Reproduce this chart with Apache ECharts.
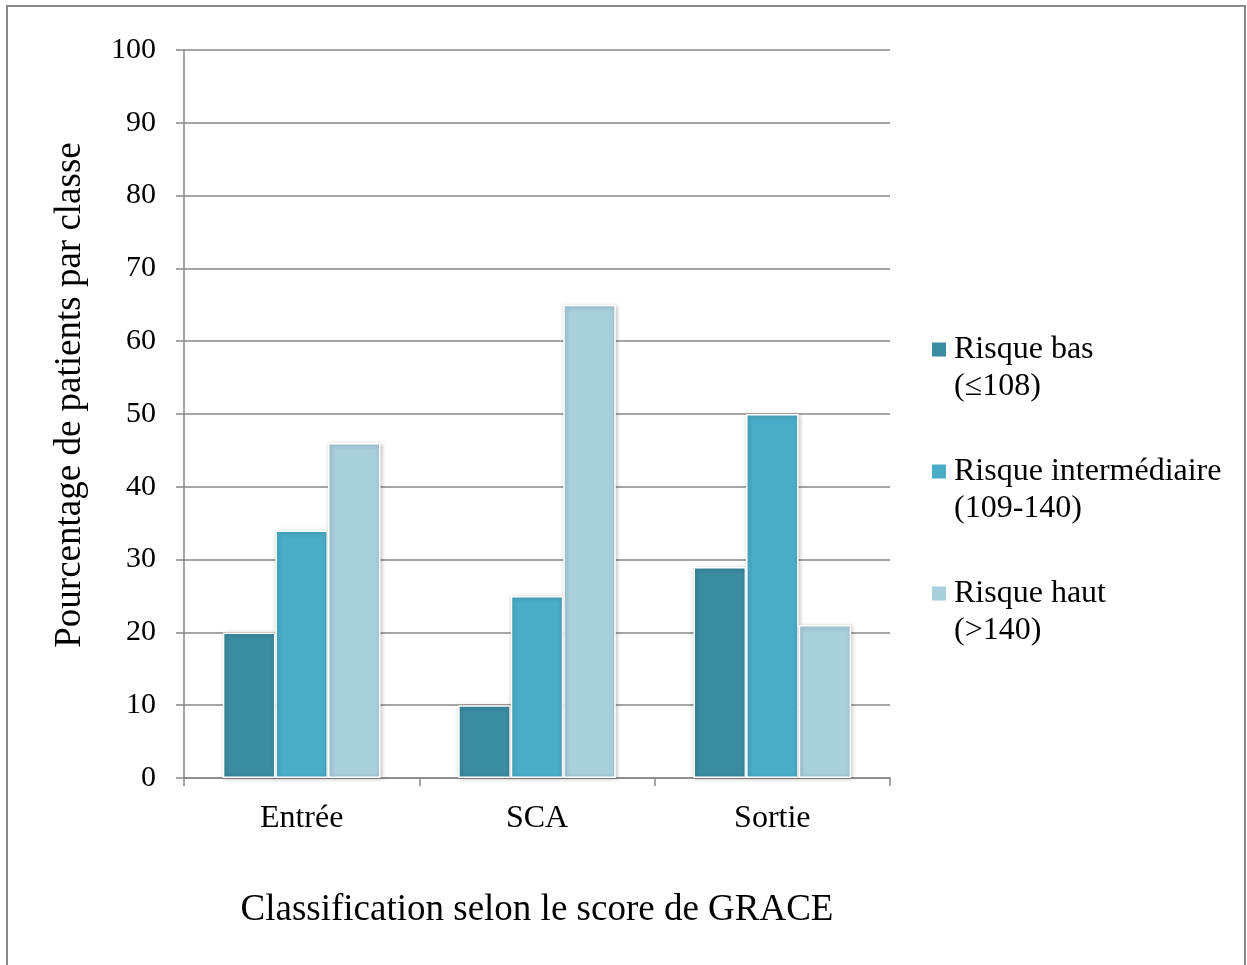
<!DOCTYPE html>
<html>
<head>
<meta charset="utf-8">
<script src="https://cdn.jsdelivr.net/npm/echarts@6/dist/echarts.min.js"></script>
<style>
  html, body { margin: 0; padding: 0; background: #fff; }
  #chart { width: 1247px; height: 965px; }
</style>
</head>
<body>
<div id="chart"></div>
<script>
// categories and series (percent of patients per class)
const categories = ['Entrée', 'SCA', 'Sortie']
const risqueBas = [20, 10, 29]
const risqueInter = [34, 25, 50]
const risqueHaut = [46, 65, 21]
const seriesNames = ['Risque bas\n(≤108)', 'Risque intermédiaire\n(109-140)', 'Risque haut\n(>140)']
const colors = ['#3B8BA1', '#4AACC6', '#A9CEDC']

let chart = echarts.init(document.getElementById('chart'))

const font = 'Liberation Serif'
const gridColor = '#878787'

function bar (name, data, color) {
  return {
    name: name,
    type: 'bar',
    data: data,
    barGap: 0,
    barCategoryGap: '33%',
    itemStyle: {
      color: color,
      borderColor: '#fff',
      borderWidth: 1.5,
      shadowBlur: 4,
      shadowColor: 'rgba(0, 0, 0, 0.25)',
      shadowOffsetX: 1,
      shadowOffsetY: 1
    }
  }
}

let option = {
  animation: false,
  backgroundColor: '#fff',
  color: colors,
  textStyle: { fontFamily: font, color: '#000' },
  graphic: [
    {
      type: 'rect',
      shape: { x: 7, y: 6, width: 1238, height: 980 },
      style: { fill: 'none', stroke: '#8a8a8a', lineWidth: 2 }
    }
  ],
  legend: {
    orient: 'vertical',
    left: 927,
    top: 326,
    itemWidth: 14,
    itemHeight: 51,
    itemGap: 48,
    // square sitting on the first text line, with an empty tail below it
    icon: 'path://M0,0L14,0L14,14L0,14Z M0,14L0,51',
    itemStyle: { borderWidth: 0, shadowBlur: 0 },
    textStyle: {
      fontFamily: font,
      fontSize: 32,
      color: '#000',
      lineHeight: 37,
      padding: [0, 0, 0, 3]
    },
    data: seriesNames
  },
  grid: {
    left: 184,
    top: 50,
    right: 357,
    bottom: 187
  },
  xAxis: {
    type: 'category',
    data: categories,
    name: 'Classification selon le score de GRACE',
    nameLocation: 'middle',
    nameGap: 114,
    nameTextStyle: { fontFamily: font, fontSize: 37, color: '#000' },
    axisLine: { lineStyle: { color: gridColor, width: 1.5 } },
    axisTick: { show: true, length: 8, lineStyle: { color: gridColor, width: 1.5 } },
    axisLabel: { fontFamily: font, fontSize: 32, color: '#000', margin: 25 }
  },
  yAxis: {
    type: 'value',
    min: 0,
    max: 100,
    interval: 10,
    name: 'Pourcentage de patients par classe',
    nameLocation: 'middle',
    nameGap: 95,
    nameTextStyle: { fontFamily: font, fontSize: 37, color: '#000', padding: [0, 0, 0, 38] },
    axisLine: { show: true, lineStyle: { color: gridColor, width: 1.5 } },
    axisTick: { show: true, length: 8, lineStyle: { color: gridColor, width: 1.5 } },
    axisLabel: { fontFamily: font, fontSize: 30, color: '#000', margin: 28 },
    splitLine: { lineStyle: { color: gridColor, width: 1.5 } }
  },
  series: [
    bar(seriesNames[0], risqueBas, colors[0]),
    bar(seriesNames[1], risqueInter, colors[1]),
    bar(seriesNames[2], risqueHaut, colors[2])
  ]
}

chart.setOption(option)
</script>
</body>
</html>
